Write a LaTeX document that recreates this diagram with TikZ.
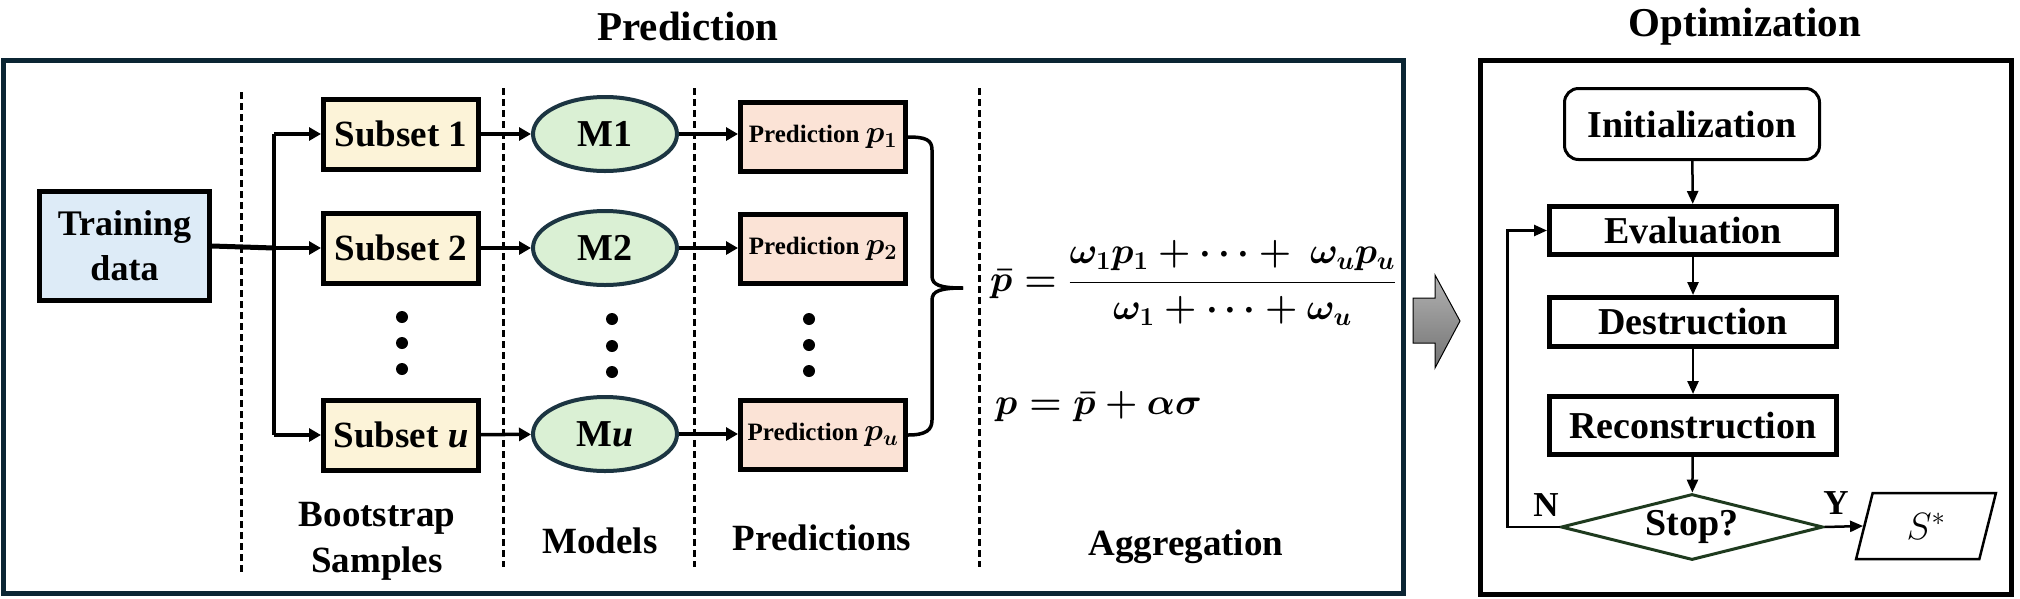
\RequirePackage{fix-cm}
\documentclass[tikz,border=0pt]{standalone}
\usepackage{amsmath,amssymb}
\usepackage{fontspec}
\setmainfont{Liberation Serif}
\usetikzlibrary{arrows.meta,shapes.geometric}
\newcommand\fsz[2]{\fontsize{#1}{#2}\selectfont}
\definecolor{navy}{HTML}{0B2533}
\definecolor{ellb}{HTML}{1C3542}
\definecolor{trainc}{HTML}{DDEBF7}
\definecolor{subc}{HTML}{FCF3D8}
\definecolor{modc}{HTML}{DAF0D4}
\definecolor{predc}{HTML}{FBE3D6}
\definecolor{dgreen}{HTML}{1E3A1E}
\tikzset{
  boxs/.style={draw=black, line width=5pt, inner sep=0pt, font=\bfseries\fsz{37}{44}},
  trainbox/.style={boxs, fill=trainc, minimum width=170pt, minimum height=109pt, align=center, font=\bfseries\fsz{36}{45}},
  subbox/.style={boxs, fill=subc, minimum width=155pt, minimum height=70pt},
  modell/.style={ellipse, draw=ellb, line width=4pt, fill=modc, minimum width=144pt, minimum height=74pt, inner sep=0pt, font=\bfseries\fsz{38}{44}},
  predbox/.style={boxs, fill=predc, minimum width=165pt, minimum height=69pt, font=\bfseries\fsz{25}{30}},
  arr/.style={line width=3.5pt, -{Triangle[length=12pt,width=13pt]}},
  dashsep/.style={line width=3pt, dash pattern=on 7pt off 4pt},
  lbl/.style={font=\bfseries\fsz{37}{46}, align=center, inner sep=0pt},
  ttl/.style={font=\bfseries\fsz{41}{46}, inner sep=0pt},
  obox/.style={draw=black, line width=5pt, minimum width=287pt, inner sep=0pt, font=\bfseries\fsz{38}{44}},
  oarr/.style={line width=2.5pt, -{Triangle[length=13pt,width=11pt]}},
  dotc/.style={fill=black},
}
\begin{document}
\begin{tikzpicture}[x=1pt,y=-1pt]
\useasboundingbox (0,0) rectangle (2020,598);
% titles
\node[ttl, anchor=base] (t1) at (688,40) {Prediction};
\node[ttl, anchor=base] (t2) at (1745,36) {Optimization};
% frames
\draw[navy, line width=5pt] (3,60) rectangle (1403.5,593);
\draw[black, line width=5pt] (1480.5,60.5) rectangle (2011,594);
% dashed separators
\draw[dashsep] (241,92) -- (241,573);
\draw[dashsep] (503,88) -- (503,567);
\draw[dashsep] (694,88) -- (694,567);
\draw[dashsep] (979,88) -- (979,567);
% training
\node[trainbox] (train) at (124.5,246) {Training\\data};
% subsets
\node[subbox] (s1) at (401,134) {Subset 1};
\node[subbox] (s2) at (401,248) {Subset 2};
\node[subbox] (su) at (401,435) {Subset \textit{u}};
% models
\node[modell] (m1) at (605,134) {M1};
\node[modell] (m2) at (605,248) {M2};
\node[modell] (mu) at (605,434) {M\textit{u}};
% predictions
\node[predbox] (p1) at (823,137) {Prediction {\fsz{31}{31}$\boldsymbol{p_1}$}};
\node[predbox] (p2) at (823,249) {Prediction {\fsz{31}{31}$\boldsymbol{p_2}$}};
\node[predbox] (pu) at (823,435) {Prediction {\fsz{31}{31}$\boldsymbol{p_u}$}};
% dots
\foreach \y in {317,343,369} \fill[dotc] (402,\y) circle (6);
\foreach \y in {319,346,372} \fill[dotc] (612,\y) circle (6);
\foreach \y in {319,345,371} \fill[dotc] (809,\y) circle (6);
% branching
\coordinate (branch) at (274,248);
\coordinate (btop) at (274,134);
\coordinate (bbot) at (274,435);
\draw[line width=5pt] (train.east) -- (branch);
\draw[line width=3.5pt] (btop) -- (bbot);
\draw[arr] (btop) -- (s1);
\draw[arr] (branch) -- (s2);
\draw[arr] (bbot) -- (su);
\draw[arr] (s1) -- (m1);
\draw[arr] (s2) -- (m2);
\draw[arr] (su) -- (mu);
\draw[arr] (m1) -- (m1 -| p1.west);
\draw[arr] (m2) -- (m2 -| p2.west);
\draw[arr] (mu) -- (mu -| pu.west);
% brace
\coordinate (btip) at (963,288);
\draw[line width=3.5pt] (p1.east) .. controls +(18,0) and +(0,-10) .. (932,150) -- (932,276) .. controls (932,285) and (940,288) .. (btip);
\draw[line width=3.5pt] (btip) .. controls (940,288) and (932,291) .. (932,300) -- (932,420) .. controls +(0,10) and +(18,0) .. (pu.east);
% formulas
\node[anchor=west, inner sep=0pt, font=\fsz{37}{42}] (f1) at (990,283) {$\boldsymbol{\bar{p} = \dfrac{\omega_1 p_1 + \cdots +\ \omega_u p_u}{\omega_1 + \cdots + \omega_u}}$};
\node[anchor=west, inner sep=0pt, font=\fsz{37}{42}] (f2) at (995,407) {$\boldsymbol{p = \bar{p} + \alpha\sigma}$};
% bottom labels
\node[lbl] (l1) at (377,541) {Bootstrap\\Samples};
\node[lbl, anchor=base] (l2) at (600,553) {Models};
\node[lbl, anchor=base] (l3) at (822,550) {Predictions};
\node[lbl, anchor=base] (l4) at (1186,555) {Aggregation};
% big gray arrow
\shade[top color=black!30, bottom color=black!55, draw=black, line width=1pt]
  (1413,298) -- (1435,298) -- (1435,275) -- (1460,321) -- (1435,368) -- (1435,343) -- (1413,343) -- cycle;
% optimization flow
\node[draw=black, line width=3pt, rounded corners=14pt, minimum width=255pt, minimum height=71pt, inner sep=0pt, font=\bfseries\fsz{38}{44}] (init) at (1692,124) {Initialization};
\node[obox, minimum height=48pt] (eval) at (1693,230.5) {Evaluation};
\node[obox, minimum height=49pt] (destr) at (1693,322) {Destruction};
\node[obox, minimum height=58pt] (recon) at (1693,425.5) {Reconstruction};
\node[diamond, draw=dgreen, line width=3pt, aspect=3.8, minimum width=262pt, minimum height=66pt, inner sep=0pt, font=\bfseries\fsz{38}{44}] (stop) at (1692,527) {Stop?};
\node[trapezium, trapezium left angle=77, trapezium right angle=103, trapezium stretches=true, draw=black, line width=2.5pt, minimum width=140pt, minimum height=66pt, inner sep=0pt, font=\fsz{38}{44}] (sstar) at (1926,526) {$S^{*}$};
\draw[oarr] (init) -- (eval);
\draw[oarr] (eval) -- (destr);
\draw[oarr] (destr) -- (recon);
\draw[oarr] (recon) -- (stop);
\draw[oarr] (stop.east) -- (sstar.west);
\draw[oarr] (stop.west) -- ++(-52,0) |- (eval.west);
\node[font=\bfseries\fsz{35}{40}, inner sep=0pt] (nlab) at (1546,505) {N};
\node[font=\bfseries\fsz{35}{40}, inner sep=0pt] (ylab) at (1836,503) {Y};
\end{tikzpicture}
\end{document}
